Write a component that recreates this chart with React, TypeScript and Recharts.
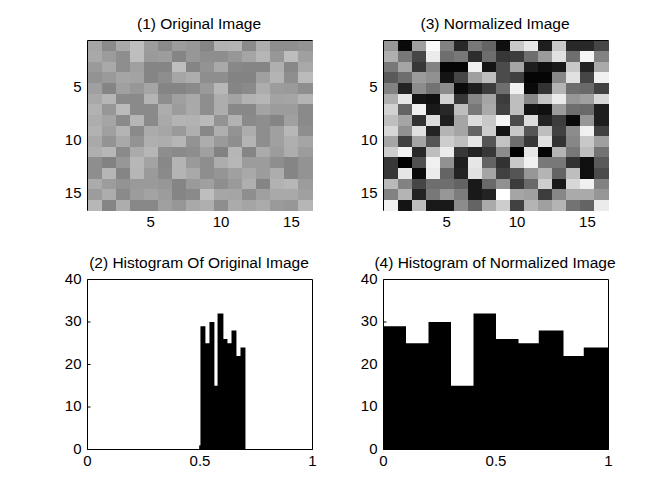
import { AreaChart, Area, ScatterChart, Scatter, XAxis, YAxis } from 'recharts'

const FONT = '"Liberation Sans", Arial, sans-serif'

// gray levels (0-255), one list per image row
const originalPixels = [
  [165, 138, 169, 190, 156, 138, 156, 151, 133, 178, 180, 138, 173, 142, 142, 147],
  [169, 156, 142, 190, 154, 157, 133, 151, 142, 142, 151, 165, 182, 151, 189, 160],
  [154, 169, 142, 160, 133, 133, 190, 133, 147, 169, 136, 133, 133, 175, 136, 169],
  [147, 154, 165, 163, 133, 142, 166, 173, 142, 142, 131, 131, 160, 180, 142, 186],
  [160, 133, 160, 151, 165, 133, 133, 138, 154, 183, 133, 138, 173, 156, 154, 142],
  [169, 182, 138, 138, 180, 142, 160, 169, 142, 173, 163, 178, 182, 163, 165, 180],
  [178, 151, 186, 138, 138, 173, 156, 169, 142, 173, 136, 136, 163, 156, 156, 138],
  [173, 165, 138, 182, 138, 169, 180, 178, 186, 147, 178, 138, 142, 133, 160, 138],
  [178, 160, 180, 138, 171, 166, 154, 175, 136, 175, 147, 173, 142, 160, 183, 142],
  [169, 147, 169, 147, 175, 173, 182, 147, 173, 154, 142, 180, 142, 160, 175, 165],
  [175, 183, 138, 171, 182, 142, 138, 142, 160, 130, 182, 133, 171, 156, 173, 156],
  [142, 130, 151, 183, 163, 136, 180, 154, 142, 173, 183, 156, 156, 142, 133, 147],
  [142, 182, 133, 182, 154, 138, 180, 169, 142, 149, 160, 169, 156, 173, 133, 147],
  [171, 156, 147, 154, 154, 151, 133, 154, 160, 142, 154, 175, 133, 178, 183, 156],
  [156, 173, 138, 156, 163, 156, 133, 138, 190, 166, 165, 142, 160, 169, 169, 160],
  [183, 133, 173, 136, 136, 160, 151, 169, 175, 142, 171, 165, 171, 154, 151, 182],
]

const normalizedPixels = [
  [150, 10, 160, 250, 130, 40, 120, 100, 15, 200, 230, 30, 200, 40, 40, 70],
  [175, 120, 70, 235, 110, 120, 45, 110, 55, 60, 110, 155, 225, 110, 245, 130],
  [120, 165, 55, 130, 5, 5, 240, 20, 75, 165, 30, 15, 25, 200, 35, 170],
  [90, 110, 155, 145, 20, 70, 160, 190, 75, 65, 5, 5, 135, 225, 70, 240],
  [130, 35, 140, 115, 140, 10, 30, 60, 110, 240, 10, 50, 180, 110, 105, 65],
  [175, 230, 20, 15, 210, 55, 135, 165, 60, 190, 135, 195, 235, 150, 160, 215],
  [210, 100, 240, 25, 40, 190, 120, 170, 65, 190, 20, 15, 155, 110, 105, 30],
  [190, 165, 50, 220, 30, 165, 220, 200, 245, 75, 220, 35, 60, 10, 150, 30],
  [215, 145, 225, 35, 180, 165, 100, 205, 20, 200, 85, 190, 65, 140, 240, 65],
  [165, 65, 165, 85, 205, 190, 230, 85, 195, 110, 55, 225, 50, 135, 200, 160],
  [205, 240, 40, 190, 235, 55, 35, 55, 140, 0, 230, 5, 180, 120, 190, 115],
  [55, 0, 80, 240, 145, 30, 230, 100, 50, 200, 240, 120, 120, 50, 15, 90],
  [55, 230, 10, 235, 100, 35, 225, 165, 65, 85, 150, 180, 100, 190, 15, 75],
  [185, 130, 70, 110, 110, 100, 25, 105, 145, 60, 105, 205, 25, 215, 240, 130],
  [130, 180, 35, 120, 150, 125, 25, 35, 255, 165, 160, 60, 135, 170, 170, 150],
  [240, 20, 190, 25, 25, 140, 100, 170, 205, 65, 180, 160, 180, 115, 100, 235],
]

const imageTicks = [5, 10, 15]

const originalCounts = [1, 29, 25, 30, 15, 32, 26, 25, 28, 22, 24]
const originalEdges = [0.497, 0.502, 0.524, 0.542, 0.564, 0.578, 0.604, 0.622, 0.64, 0.662, 0.68, 0.702]
const normalizedCounts = [29, 25, 30, 15, 32, 26, 25, 28, 22, 24]
const normalizedEdges = [0, 0.1, 0.2, 0.3, 0.4, 0.5, 0.6, 0.69, 0.8, 0.89, 1]
const histXTicks = [0, 0.5, 1]
const histYTicks = [0, 10, 20, 30, 40]

const xTickStyle = { fontSize: 15, fill: '#000', fontFamily: FONT }
const imageYTickStyle = { ...xTickStyle, dy: -2 }
const histYTickStyle = { ...xTickStyle, dy: -1 }
const CW = 672
const CH = 504
const plotW = 225
const plotH = 170

function toCells(pixels: number[][]) {
  return pixels.flatMap((row, r) => row.map((gray, c) => ({ col: c + 1, row: r + 1, gray })))
}

function toSteps(edges: number[], counts: number[]) {
  const steps = counts.map((count, i) => ({ x: edges[i], count }))
  steps.push({ x: edges[edges.length - 1], count: counts[counts.length - 1] })
  return steps
}

function Title({ left, top, text }: { left: number; top: number; text: string }) {
  return (
    <text x={left + plotW / 2 - 1} y={top - 12} textAnchor="middle" fontSize={15.5} fontFamily={FONT} fill="#000">
      {text}
    </text>
  )
}

// axes take 1px each, so the margins leave room for them round the plot
function panelMargin(left: number, top: number) {
  return { left: left - 1, top: top - 1, right: CW - left - plotW - 1, bottom: CH - top - plotH - 1 }
}

function ImagePanel({ pixels, title, left, top }: { pixels: number[][]; title: string; left: number; top: number }) {
  const cellW = plotW / 16
  const cellH = plotH / 16
  const shape = (p: any) => {
    const g = p.payload.gray
    return (
      <rect
        x={p.cx - cellW / 2}
        y={p.cy - cellH / 2}
        width={cellW}
        height={cellH}
        fill={`rgb(${g},${g},${g})`}
        shapeRendering="crispEdges"
      />
    )
  }
  return (
    <ScatterChart
      width={CW}
      height={CH}
      margin={panelMargin(left, top)}
      style={{ position: 'absolute', left: 0, top: 0 }}
    >
      <Scatter data={toCells(pixels)} xAxisId="b" yAxisId="l" shape={shape} isAnimationActive={false} />
      <XAxis type="number" dataKey="col" xAxisId="b" domain={[0.5, 16.5]} ticks={imageTicks} height={1} tickSize={-3} tickMargin={9} tick={xTickStyle} stroke="#000" interval={0} />
      <XAxis type="number" xAxisId="t" orientation="top" domain={[0.5, 16.5]} ticks={imageTicks} height={1} tickSize={-3} tick={false} stroke="#000" />
      <YAxis type="number" dataKey="row" yAxisId="l" reversed domain={[0.5, 16.5]} ticks={imageTicks} width={1} tickSize={-3} tickMargin={9} tick={imageYTickStyle} stroke="#000" interval={0} />
      <YAxis type="number" yAxisId="r" orientation="right" reversed domain={[0.5, 16.5]} ticks={imageTicks} width={1} tickSize={-3} tick={false} stroke="#000" />
      <Title left={left} top={top} text={title} />
    </ScatterChart>
  )
}

function HistPanel({ edges, counts, title, left, top }: { edges: number[]; counts: number[]; title: string; left: number; top: number }) {
  return (
    <AreaChart
      width={CW}
      height={CH}
      data={toSteps(edges, counts)}
      margin={panelMargin(left, top)}
      style={{ position: 'absolute', left: 0, top: 0 }}
    >
      <XAxis type="number" dataKey="x" xAxisId="b" domain={[0, 1]} ticks={histXTicks} height={1} tickSize={-3} tickMargin={9} tick={xTickStyle} stroke="#000" interval={0} />
      <XAxis type="number" xAxisId="t" orientation="top" domain={[0, 1]} ticks={histXTicks} height={1} tickSize={-3} tick={false} stroke="#000" />
      <YAxis type="number" yAxisId="l" domain={[0, 40]} ticks={histYTicks} width={1} tickSize={-3} tickMargin={9} tick={histYTickStyle} stroke="#000" interval={0} />
      <YAxis type="number" yAxisId="r" orientation="right" domain={[0, 40]} ticks={histYTicks} width={1} tickSize={-3} tick={false} stroke="#000" />
      <Area xAxisId="b" yAxisId="l" dataKey="count" type="stepAfter" fill="#000" fillOpacity={1} stroke="none" isAnimationActive={false} dot={false} activeDot={false} />
      <Title left={left} top={top} text={title} />
    </AreaChart>
  )
}

export default function App() {
  return (
    <div style={{ position: 'absolute', left: 0, top: 0, width: CW, height: CH, background: '#fff' }}>
      <ImagePanel pixels={originalPixels} title="(1) Original Image" left={87.5} top={40.5} />
      <ImagePanel pixels={normalizedPixels} title="(3) Normalized Image" left={383.5} top={40.5} />
      <HistPanel edges={originalEdges} counts={originalCounts} title="(2) Histogram Of Original Image" left={87.5} top={279.5} />
      <HistPanel edges={normalizedEdges} counts={normalizedCounts} title="(4) Histogram of Normalized Image" left={383.5} top={279.5} />
    </div>
  )
}
